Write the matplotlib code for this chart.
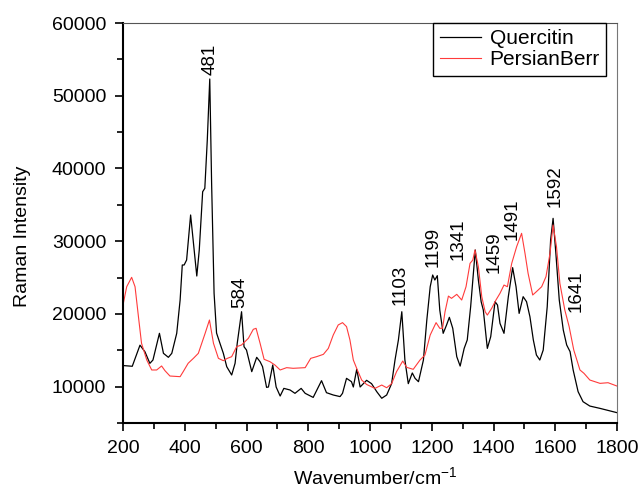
import matplotlib
matplotlib.use("Agg")
import numpy as np
import matplotlib.pyplot as plt
from matplotlib.ticker import MultipleLocator

plt.rcParams['font.family'] = ['Liberation Sans', 'DejaVu Sans']
plt.rcParams['mathtext.fontset'] = 'custom'
plt.rcParams['mathtext.rm'] = 'Liberation Sans'

# Quercitin spectrum
q_wn = [200, 230, 255, 271, 287, 297, 318, 331, 347, 358, 374, 385, 392, 398, 406,
        419, 425, 439, 447, 458, 465, 473, 481, 487, 495, 503, 514, 525, 536, 552,
        563, 570, 584, 592, 600, 617, 633, 644, 652, 665, 671, 685, 696, 709, 721,
        741, 757, 777, 790, 816, 843, 859, 881, 903, 911, 924, 940, 946, 957, 968,
        989, 1005, 1022, 1038, 1054, 1070, 1081, 1092, 1103, 1113, 1124, 1137, 1146,
        1157, 1173, 1184, 1195, 1203, 1210, 1218, 1226, 1237, 1248, 1257, 1268, 1281,
        1292, 1305, 1315, 1326, 1341, 1351, 1360, 1367, 1380, 1391, 1405, 1413, 1421,
        1434, 1448, 1462, 1473, 1483, 1496, 1507, 1518, 1529, 1539, 1550, 1561, 1574,
        1585, 1593, 1602, 1613, 1626, 1637, 1648, 1658, 1674, 1690, 1712, 1745, 1800]
q_int = [12900, 12800, 15700, 14800, 13200, 13660, 17330, 14580, 14030, 14580, 17330,
         21910, 26725, 26725, 27410, 33600, 31080, 25210, 28790, 36800, 37270, 43910,
         52300, 37960, 22830, 17370, 15960, 14580, 12740, 11600, 13210, 15960, 20300,
         15490, 15030, 12060, 14030, 13430, 12740, 9900, 9950, 12975, 9950, 8710, 9760,
         9540, 9080, 9760, 9080, 8520, 10820, 9170, 8850, 8630, 9080, 11140, 10680,
         9950, 12380, 9950, 10870, 10410, 9300, 8400, 8850, 10410, 13660, 16420, 20300,
         13660, 10410, 11880, 11140, 10680, 13660, 19150, 23740, 25350, 24660, 25260,
         20530, 17330, 18480, 19530, 18020, 14120, 12830, 15260, 16420, 20990, 28790,
         24660, 21680, 20530, 15260, 16870, 21680, 21220, 18700, 17330, 22370, 26360,
         23740, 20070, 22370, 21680, 19610, 16420, 14350, 13660, 15030, 20990, 30160,
         33140, 28330, 21910, 17790, 15730, 14810, 12290, 9310, 7930, 7330, 7010, 6420]

# PersianBerr spectrum
p_wn = [200, 212, 228, 239, 250, 260, 277, 293, 309, 325, 336, 352, 385, 395, 411,
        428, 444, 466, 480, 493, 509, 525, 538, 552, 568, 584, 606, 622, 631, 644,
        657, 676, 692, 709, 730, 751, 790, 808, 827, 849, 865, 881, 897, 911, 924,
        935, 946, 959, 973, 989, 1016, 1038, 1054, 1070, 1086, 1106, 1119, 1140, 1162,
        1178, 1195, 1214, 1226, 1235, 1243, 1254, 1264, 1281, 1297, 1311, 1324, 1333,
        1340, 1351, 1362, 1373, 1380, 1394, 1408, 1421, 1434, 1445, 1459, 1475, 1491,
        1502, 1512, 1527, 1539, 1556, 1570, 1583, 1593, 1604, 1615, 1631, 1645, 1660,
        1680, 1693, 1712, 1745, 1771, 1800]
p_int = [21225, 23740, 25030, 23740, 19620, 15960, 13660, 12290, 12290, 12840, 12190,
         11460, 11370, 12060, 13210, 13890, 14580, 17330, 19160, 15960, 13890, 13570,
         13890, 14120, 15490, 15730, 16640, 17880, 18020, 15960, 13760, 13430, 12975,
         12290, 12610, 12520, 12610, 13890, 14120, 14440, 15260, 17100, 18480, 18800,
         18250, 16420, 13660, 12290, 10910, 10300, 9760, 10220, 9850, 10410, 12060,
         13520, 12650, 12380, 13660, 14350, 17100, 18800, 18020, 18020, 20300, 22450,
         22140, 22690, 21910, 23740, 26950, 27410, 28790, 26490, 22370, 20300, 19840,
         20760, 21910, 22830, 23970, 23740, 26950, 29250, 31080, 28330, 25580, 22600,
         23060, 23740, 25120, 28330, 32230, 29250, 24200, 20530, 18250, 15030, 12290,
         11830, 10910, 10450, 10540, 10080]

# peak labels and where they sit
peak_text = ['481', '584', '1103', '1199', '1341', '1459', '1491', '1592', '1641']
peak_x = [482, 578, 1098, 1204, 1285, 1402, 1459, 1598, 1666]
peak_y = [52850, 20800, 21200, 26450, 27400, 25600, 30150, 34700, 20250]

fig = plt.figure(figsize=(6.42, 4.9), dpi=100)
ax = fig.add_axes([123/642, 1 - 423/490, 494/642, 400/490])

ax.plot(q_wn, q_int, color='black', lw=0.9, label='Quercitin')
ax.plot(p_wn, p_int, color='#ff3b3b', lw=0.8, label='PersianBerr')

for t, x, y in zip(peak_text, peak_x, peak_y):
    ax.text(x, y, t, rotation=90, ha='center', va='bottom', fontsize=13.5)

ax.set_xlim(200, 1800)
ax.set_ylim(5000, 60000)
ax.xaxis.set_major_locator(MultipleLocator(200))
ax.xaxis.set_minor_locator(MultipleLocator(100))
ax.yaxis.set_major_locator(MultipleLocator(10000))
ax.yaxis.set_minor_locator(MultipleLocator(5000))
ax.tick_params(which='both', direction='out', labelsize=14, width=1.2)
ax.tick_params(which='major', length=6, pad=6)
ax.tick_params(which='minor', length=4)
ax.set_yticks([10000, 20000, 30000, 40000, 50000, 60000])

for s in ['left', 'bottom']:
    ax.spines[s].set_linewidth(1.5)
ax.spines['top'].set_color('#555555')
ax.spines['right'].set_color('#777777')

ax.set_xlabel('Wavenumber/cm$^{\\mathrm{-1}}$', fontsize=14)
ax.set_ylabel('Raman Intensity', fontsize=14)
ax.xaxis.label.set_va('baseline')
ax.xaxis.set_label_coords(0.51, -0.155)
ax.yaxis.label.set_va('center')
ax.yaxis.set_label_coords(-0.203, 0.4675)

leg = ax.legend(loc='upper right', bbox_to_anchor=(0.978, 1.0), borderaxespad=0,
                fontsize=15, fancybox=False, framealpha=1, edgecolor='black',
                handlelength=2.0, handletextpad=0.4, borderpad=0.3, labelspacing=0.1)
leg.get_frame().set_linewidth(1.0)

fig.savefig('out.png', dpi=100)
